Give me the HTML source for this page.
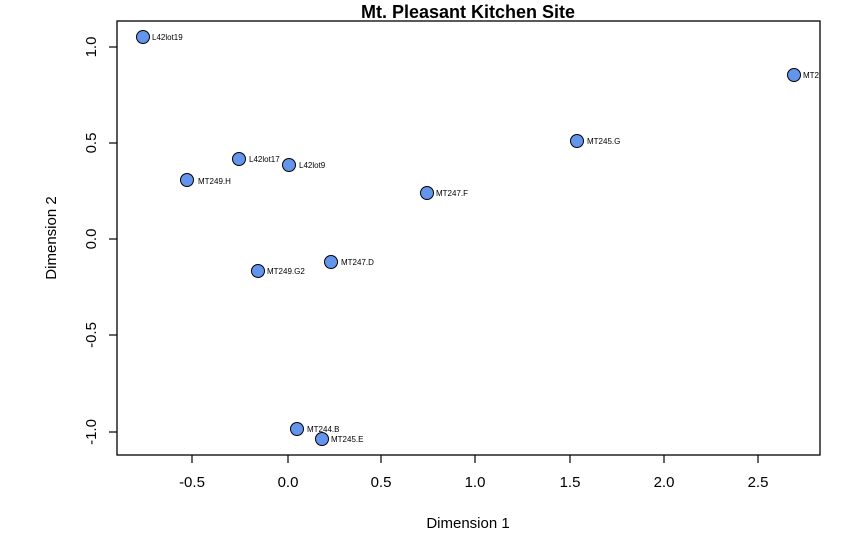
<!DOCTYPE html>
<html><head><style>body{margin:0;background:#fff}</style></head><body>
<svg width="861" height="553" xmlns="http://www.w3.org/2000/svg" font-family="Liberation Sans, Arial, sans-serif">
<defs><clipPath id="c"><rect x="117" y="21" width="703" height="434"/></clipPath></defs>
<text x="468" y="18" text-anchor="middle" font-size="18" font-weight="bold">Mt. Pleasant Kitchen Site</text>
<rect x="117" y="21" width="703" height="434" fill="none" stroke="#000" stroke-width="1.3"/>
<g stroke="#000" stroke-width="1.2">
<line x1="192" y1="455" x2="192" y2="463"/><line x1="288" y1="455" x2="288" y2="463"/><line x1="381" y1="455" x2="381" y2="463"/><line x1="475" y1="455" x2="475" y2="463"/><line x1="570" y1="455" x2="570" y2="463"/><line x1="664" y1="455" x2="664" y2="463"/><line x1="758" y1="455" x2="758" y2="463"/>
<line x1="109" y1="47" x2="117" y2="47"/><line x1="109" y1="143" x2="117" y2="143"/><line x1="109" y1="239" x2="117" y2="239"/><line x1="109" y1="335" x2="117" y2="335"/><line x1="109" y1="432" x2="117" y2="432"/>
</g>
<g font-size="15" text-anchor="middle">
<text x="192" y="487">-0.5</text><text x="288" y="487">0.0</text><text x="381" y="487">0.5</text><text x="475" y="487">1.0</text><text x="570" y="487">1.5</text><text x="664" y="487">2.0</text><text x="758" y="487">2.5</text>
<text transform="translate(96,47) rotate(-90)">1.0</text>
<text transform="translate(96,143) rotate(-90)">0.5</text>
<text transform="translate(96,239) rotate(-90)">0.0</text>
<text transform="translate(96,335) rotate(-90)">-0.5</text>
<text transform="translate(96,432) rotate(-90)">-1.0</text>
<text x="468" y="528">Dimension 1</text>
<text transform="translate(56,238) rotate(-90)">Dimension 2</text>
</g>
<g clip-path="url(#c)" font-size="8">
<g fill="#6495ED" stroke="#000" stroke-width="1">
<circle cx="143" cy="37" r="6.5"/><circle cx="794" cy="75" r="6.5"/><circle cx="577" cy="141" r="6.5"/><circle cx="239" cy="159" r="6.5"/><circle cx="289" cy="165" r="6.5"/><circle cx="187" cy="180" r="6.5"/><circle cx="427" cy="193" r="6.5"/><circle cx="331" cy="262" r="6.5"/><circle cx="258" cy="271" r="6.5"/><circle cx="297" cy="429" r="6.5"/><circle cx="322" cy="439" r="6.5"/>
</g>
<text x="152" y="40">L42lot19</text>
<text x="803" y="78">MT2</text>
<text x="587" y="144">MT245.G</text>
<text x="249" y="162">L42lot17</text>
<text x="299" y="168">L42lot9</text>
<text x="198" y="184">MT249.H</text>
<text x="436" y="196">MT247.F</text>
<text x="341" y="265">MT247.D</text>
<text x="267" y="274">MT249.G2</text>
<text x="307" y="432">MT244.B</text>
<text x="331" y="442">MT245.E</text>
</g>
</svg>
</body></html>
